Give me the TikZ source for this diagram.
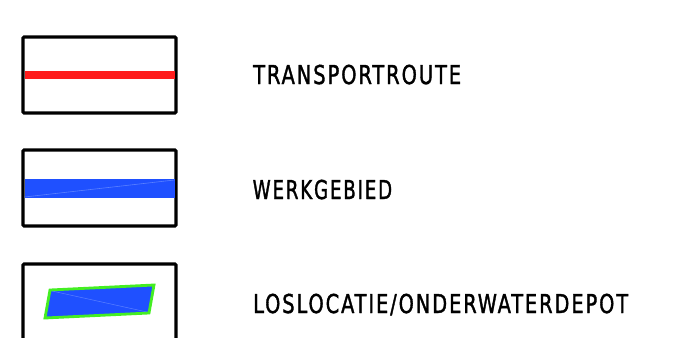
\documentclass[tikz,border=0pt]{standalone}
\usepackage{fontspec}
\usepackage{graphicx}
\newfontfamily\legendfont[LetterSpace=9,FakeBold=1.6]{DejaVu Sans Condensed}
\newcommand\fitlabel[2]{\resizebox{#1}{\height}{#2}}
\definecolor{routered}{HTML}{FF1C1C}
\definecolor{areablue}{HTML}{1F50FF}
\definecolor{areablue2}{HTML}{5A80FF}
\definecolor{depotgreen}{HTML}{44EE22}
\tikzset{
  frame/.style={draw=black, line width=3.2pt, rounded corners=1.2pt},
  legendtext/.style={anchor=base west, inner sep=0pt, font=\legendfont\fontsize{26}{28}\selectfont},
}
\begin{document}
\begin{tikzpicture}[x=1pt,y=-1pt]
\useasboundingbox (0,0) rectangle (676,337);
% box 1
\draw[frame] (23,37) rectangle (176,113);
\draw[routered, line width=8pt] (24.5,75) -- (174.5,75);
\node[legendtext] (t1) at (253,84) {\fitlabel{208pt}{TRANSPORTROUTE}};
% box 2
\draw[frame] (23,150) rectangle (176,226);
\fill[areablue] (24.5,179) rectangle (174.5,198);
\draw[areablue2, line width=0.6pt] (24.5,197) -- (174.5,180);
\node[legendtext] (t2) at (252.5,199) {\fitlabel{139.5pt}{WERKGEBIED}};
% box 3
\draw[frame] (23,345) -- (23,264) -- (176,264) -- (176,345);
\draw[depotgreen, line width=2.8pt, fill=areablue, line join=miter]
  (50,290) -- (154,285) -- (149,313) -- (45,318) -- cycle;
\draw[areablue2, line width=0.5pt] (52,291) -- (147,312);
\node[legendtext] (t3) at (253,313) {\fitlabel{375pt}{LOSLOCATIE/ONDERWATERDEPOT}};
\end{tikzpicture}
\end{document}
